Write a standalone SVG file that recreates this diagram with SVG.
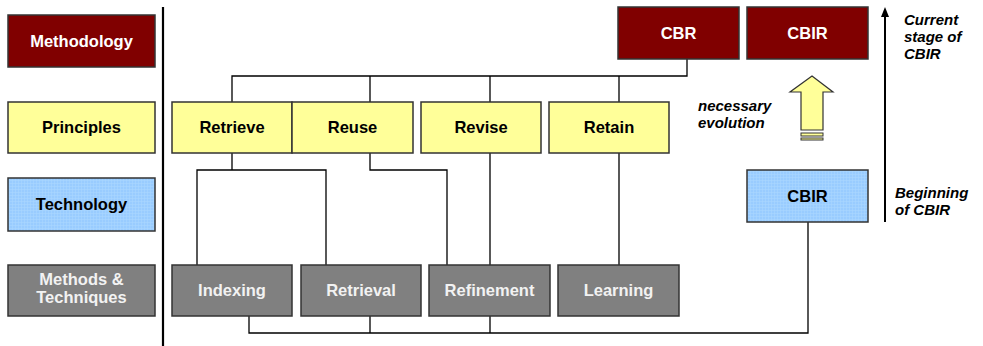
<svg xmlns="http://www.w3.org/2000/svg" width="983" height="346" viewBox="0 0 983 346">
<defs>
<pattern id="grid" width="3" height="3" patternUnits="userSpaceOnUse">
<rect width="3" height="3" fill="#99ccff"/>
<path d="M0 0.5H3M0.5 0V3" stroke="#aad6ff" stroke-width="0.6"/>
</pattern>
<style>
.box{stroke:#333;stroke-width:1.5}
.red{fill:#800000}
.yel{fill:#ffff99}
.blu{fill:url(#grid)}
.gry{fill:#808080}
.t{font-family:"Liberation Sans",Arial,sans-serif;font-weight:bold;font-size:16.5px;text-anchor:middle}
.w{fill:#fff}
.b{fill:#000}
.lg{fill:#f2f2f2}
.it{font-family:"Liberation Sans",Arial,sans-serif;font-weight:bold;font-style:italic;font-size:15px;fill:#000}
.ln{fill:none;stroke:#000;stroke-width:1.3}
</style>
</defs>
<rect width="983" height="346" fill="#fff"/>

<g id="legend">
<g id="lg-methodology"><rect class="box red" x="8" y="15" width="147" height="52"/><text class="t w" x="81.5" y="47">Methodology</text></g>
<g id="lg-principles"><rect class="box yel" x="8" y="102" width="147" height="51"/><text class="t b" x="81.5" y="133">Principles</text></g>
<g id="lg-technology"><rect class="box blu" x="8" y="178" width="147" height="53"/><text class="t b" x="81.5" y="210">Technology</text></g>
<g id="lg-methods"><rect class="box gry" x="8" y="265" width="147" height="51"/><text class="t lg" x="81.5" y="285">Methods &amp;</text><text class="t lg" x="81.5" y="303">Techniques</text></g>
</g>

<line x1="163" y1="7" x2="163" y2="346" stroke="#000" stroke-width="2.2"/>

<g id="connectors">
<path class="ln" d="M687 59V76H232V102M370 76V102M490 76V102M619 76V102"/>
<path class="ln" d="M232 153V170M197 265V170H326V265M370 153V170H447V265"/>
<path class="ln" d="M490 153V265M619 153V265"/>
<path class="ln" d="M249 316V333H808V222M370 316V333M490 316V333"/>
<line x1="885" y1="222" x2="885" y2="15" stroke="#000" stroke-width="2"/>
<path d="M885 7L889 17H881Z" fill="#000"/>
</g>

<g id="cbr"><rect class="box red" x="618" y="7" width="121" height="52"/><text class="t w" x="678.5" y="38.5">CBR</text></g>
<g id="cbir-top"><rect class="box red" x="747" y="7" width="121" height="52"/><text class="t w" x="807.5" y="38.5">CBIR</text></g>

<g id="retrieve"><rect class="box yel" x="172" y="102" width="120" height="51"/><text class="t b" x="232" y="133">Retrieve</text></g>
<g id="reuse"><rect class="box yel" x="292" y="102" width="121" height="51"/><text class="t b" x="352.5" y="133">Reuse</text></g>
<g id="revise"><rect class="box yel" x="421" y="102" width="120" height="51"/><text class="t b" x="481" y="133">Revise</text></g>
<g id="retain"><rect class="box yel" x="549" y="102" width="120" height="51"/><text class="t b" x="609" y="133">Retain</text></g>

<g id="cbir-tech"><rect class="box blu" x="747" y="170" width="121" height="52"/><text class="t b" x="807.5" y="202">CBIR</text></g>

<g id="indexing"><rect class="box gry" x="172" y="265" width="120" height="51"/><text class="t lg" x="232" y="296">Indexing</text></g>
<g id="retrieval"><rect class="box gry" x="301" y="265" width="120" height="51"/><text class="t lg" x="361" y="296">Retrieval</text></g>
<g id="refinement"><rect class="box gry" x="429" y="265" width="121" height="51"/><text class="t lg" x="489.5" y="296">Refinement</text></g>
<g id="learning"><rect class="box gry" x="558" y="265" width="121" height="51"/><text class="t lg" x="618.5" y="296">Learning</text></g>

<g id="evolution-arrow">
<path d="M812 76L833 92H823V130H801V92H790Z" fill="#ffff99" stroke="#333" stroke-width="1.2"/>
<rect x="801" y="133" width="22" height="3" fill="#ffff99" stroke="#333" stroke-width="1"/>
<rect x="801" y="138" width="22" height="2" fill="#ffff99" stroke="#333" stroke-width="1"/>
</g>

<text class="it" x="698" y="111">necessary</text>
<text class="it" x="698" y="128">evolution</text>
<text class="it" x="904" y="25">Current</text>
<text class="it" x="904" y="42">stage of</text>
<text class="it" x="904" y="59">CBIR</text>
<text class="it" x="895" y="198">Beginning</text>
<text class="it" x="895" y="215">of CBIR</text>
</svg>
